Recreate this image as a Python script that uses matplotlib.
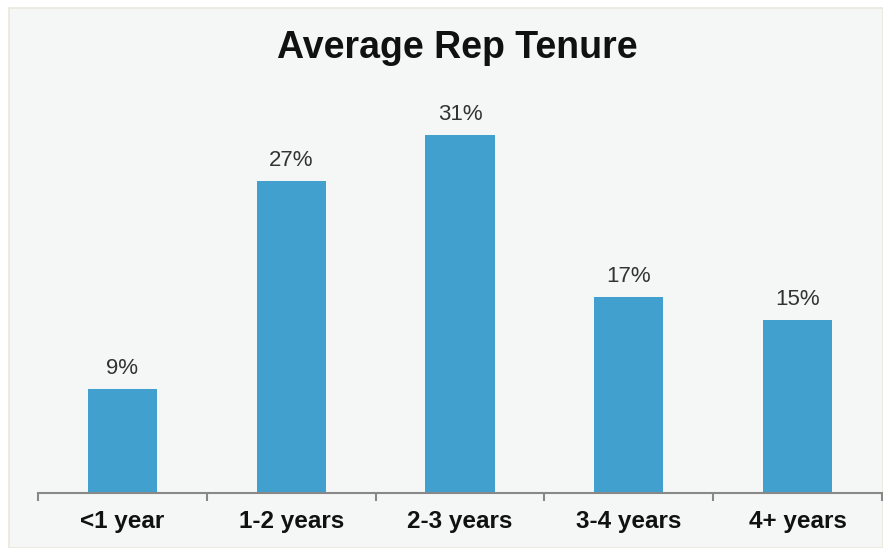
import matplotlib.pyplot as plt
from matplotlib.patches import Rectangle
import numpy as np

categories = ['<1 year', '1-2 years', '2-3 years', '3-4 years', '4+ years']
values = [9, 27, 31, 17, 15]
value_labels = ['9%', '27%', '31%', '17%', '15%']

plt.rcParams['font.family'] = ['Liberation Sans', 'DejaVu Sans']

fig = plt.figure(figsize=(8.83, 5.48), dpi=100)
fig.patch.set_facecolor('white')

# panel background with thin border
W, H = 883, 548
fig.patches.append(Rectangle((9 / W, 0), 1 - 9 / W, (H - 8) / H, transform=fig.transFigure,
                             facecolor='#f5f7f7', edgecolor='#ebe7da', linewidth=1.2, zorder=-10))

ax = fig.add_axes([38 / W, 55 / H, (882 - 38) / W, (493 - 100) / H])
ax.set_facecolor('none')
ax.set_zorder(1)

x = np.arange(len(categories))
ax.bar(x, values, width=0.41, color='#41a0cd', zorder=2)

for xi, v, lab in zip(x, values, value_labels):
    ax.annotate(lab, (xi, v), xytext=(0, 7), textcoords='offset points',
                ha='center', va='bottom', fontsize=16, color='#333333')

ax.set_xlim(-0.5, len(categories) - 0.5)
ax.set_ylim(0, 34)

ax.set_xticks(x)
ax.set_xticklabels(categories, fontsize=17.5, fontweight='bold', color='#111111')
ax.tick_params(axis='x', which='major', length=0, pad=12)
ax.set_xticks(np.arange(len(categories) + 1) - 0.5, minor=True)
ax.tick_params(axis='x', which='minor', length=6, width=1.5, color='#888888', direction='out')
ax.set_yticks([])

for side in ['top', 'right', 'left']:
    ax.spines[side].set_visible(False)
ax.spines['bottom'].set_color('#888888')
ax.spines['bottom'].set_linewidth(1.5)

fig.text(457 / W, 1 - 48 / H, 'Average Rep Tenure', ha='center', va='center',
         fontsize=27, fontweight='bold', color='#111111')

fig.savefig('out.png', dpi=100, facecolor=fig.get_facecolor())
